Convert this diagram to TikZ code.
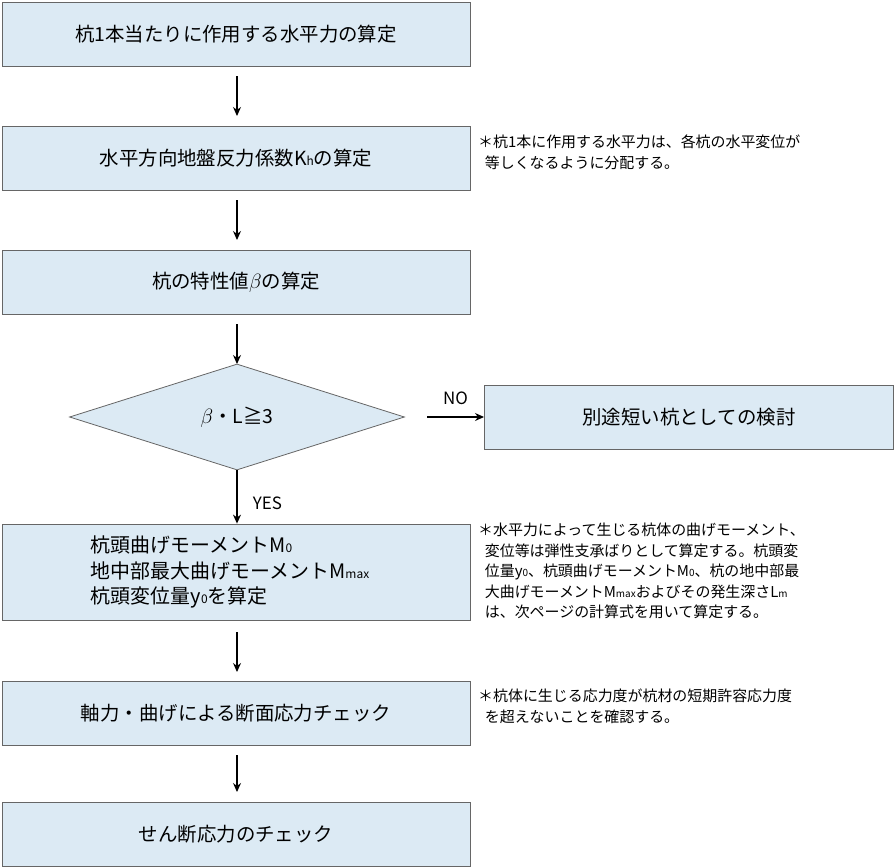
\documentclass[tikz,border=0pt]{standalone}
\usepackage{fontspec}
\setmainfont{Noto Sans CJK JP}
\usetikzlibrary{positioning, arrows.meta, shapes.geometric}
\definecolor{boxblue}{RGB}{220,234,244}
\newcommand{\sm}[1]{{\fontsize{12}{12}\selectfont #1}}
\newcommand{\smn}[1]{{\fontsize{10}{10}\selectfont #1}}
\begin{document}
\begin{tikzpicture}[
                x=1bp, y=-1bp,
                arrow/.style={-{Stealth[length=9bp,width=8bp]}, line width=1.2bp},
                stepbox/.style={draw=black!60, fill=boxblue, line width=0.8bp, minimum width=468bp, minimum height=64bp, font=\fontsize{19.5}{24}\selectfont, inner sep=0pt},
                notestyle/.style={anchor=north west, align=left, font=\fontsize{15}{20.5}\selectfont, inner sep=0pt}
            ]
                \useasboundingbox (0,0) rectangle (895,868);
                % Flow boxes
                \node[stepbox] (load) at (236,34) {杭1本当たりに作用する水平力の算定};
                \node[stepbox] (kh) at (236,158) {水平方向地盤反力係数K\sm{h}の算定};
                \node[stepbox] (beta) at (236,282) {杭の特性値$\beta$の算定};
                \node[diamond, draw=black!60, fill=boxblue, line width=0.8bp, aspect=3.2, minimum width=335bp, minimum height=106bp, inner sep=0pt, font=\fontsize{19.5}{24}\selectfont] (check) at (237,417) {$\beta$・L≧3};
                \node[stepbox, minimum width=409bp, anchor=west] (short) at (484,417) {別途短い杭としての検討};
                \node[stepbox, minimum height=96bp, align=left, text width=290bp, font=\fontsize{20}{26}\selectfont] (moment) at (236,572) {杭頭曲げモーメントM\sm{0}\\地中部最大曲げモーメントM\sm{max}\\杭頭変位量y\sm{0}を算定};
                \node[stepbox] (stress) at (236,713) {軸力・曲げによる断面応力チェック};
                \node[stepbox] (shear) at (236,834) {せん断応力のチェック};

                % Arrows
                \draw[arrow] (237,76) -- (237,116);
                \draw[arrow] (237,200) -- (237,240);
                \draw[arrow] (237,324) -- (237,364);
                \draw[arrow] (427,417) -- node[above, yshift=8bp, font=\fontsize{17}{18}\selectfont] {NO} (short.west);
                \draw[arrow] (check.south) -- node[right, xshift=12bp, yshift=-6bp, font=\fontsize{17}{18}\selectfont] {YES} (moment.north -| check.south);
                \draw[arrow] (237,632) -- (237,672);
                \draw[arrow] (237,755) -- (237,792);

                % Notes
                \node[notestyle] (note1) at (478,135) {＊杭1本に作用する水平力は、各杭の水平変位が\\\ \ 等しくなるように分配する。};
                \node[notestyle] (note2) at (478,523) {＊水平力によって生じる杭体の曲げモーメント、\\\ \ 変位等は弾性支承ばりとして算定する。杭頭変\\\ \ 位量y\smn{0}、杭頭曲げモーメントM\smn{0}、杭の地中部最\\\ \ 大曲げモーメントM\smn{max}およびその発生深さL\smn{m}\\\ \ は、次ページの計算式を用いて算定する。};
                \node[notestyle] (note3) at (478,689) {＊杭体に生じる応力度が杭材の短期許容応力度\\\ \ を超えないことを確認する。};
            \end{tikzpicture}
\end{document}
